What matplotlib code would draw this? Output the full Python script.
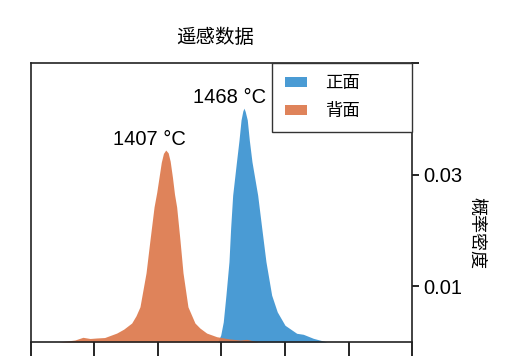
import numpy as np
import matplotlib
matplotlib.use('Agg')
import matplotlib.pyplot as plt

plt.rcParams['font.family'] = ['Liberation Sans', 'Noto Sans CJK SC']

# front surface (正面) density
front_T = [1447, 1449.4, 1451.4, 1453.5, 1455.9, 1457.2, 1458.8, 1461.8, 1463.8,
           1465.4, 1466.8, 1467.7, 1468.7, 1470.3, 1471.9, 1474.0, 1478.5, 1481.7,
           1485.0, 1489.5, 1493.9, 1500.0, 1509.2, 1514.4, 1522.3, 1533]
front_d = [0.0, 0.00125, 0.0036, 0.0084, 0.0144, 0.0204, 0.0263, 0.0323, 0.0362,
           0.0398, 0.0414, 0.0419, 0.0413, 0.0398, 0.0362, 0.0323, 0.0263, 0.0204,
           0.0144, 0.0084, 0.0054, 0.0030, 0.00156, 0.00138, 0.00066, 0.0]

# back surface (背面) density
back_T = [1322, 1334.6, 1340.9, 1346.5, 1351.7, 1358.0, 1367.5, 1373.0, 1379.3,
          1382.7, 1385.8, 1390.6, 1393.7, 1396.9, 1399.0, 1400.8, 1402.6, 1404.3,
          1406.1, 1408.0, 1409.6, 1411.4, 1413.0, 1414.7, 1417.3, 1419.7, 1423.6,
          1429.1, 1433.0, 1438.3, 1446.2, 1456.7, 1464.6, 1469.8, 1474.0, 1479]
back_d = [0.0, 0.00036, 0.00084, 0.00063, 0.00072, 0.0008, 0.0016, 0.0023, 0.0034,
          0.0047, 0.0063, 0.0124, 0.0183, 0.0242, 0.0268, 0.0295, 0.0322, 0.0338,
          0.0344, 0.0339, 0.0324, 0.0295, 0.0265, 0.0242, 0.0183, 0.0124, 0.0063,
          0.0034, 0.0025, 0.0016, 0.00095, 0.00054, 0.00036, 0.00048, 0.00027, 0.0]

labels = ['正面', '背面']
peak_text = ['1468 °C', '1407 °C']
xticks = [1300, 1350, 1400, 1450, 1500, 1550, 1600]
yticks = [0.01, 0.03, 0.05]
ytick_labels = ['0.01', '0.03', '']

c_front = '#4A9BD4'
c_back = '#DC7648'

fig = plt.figure(figsize=(5.12, 3.6), dpi=100)
ax = fig.add_axes([0.0605, 0.05, 0.7442, 0.775])

ax.fill_between(front_T, front_d, color=c_front, lw=0, label=labels[0])
ax.fill_between(back_T, back_d, color=c_back, alpha=0.9, lw=0, label=labels[1])

ax.text(1393.3, 0.0353, peak_text[1], ha='center', va='baseline', fontsize=14.5)
ax.text(1456.7, 0.0428, peak_text[0], ha='center', va='baseline', fontsize=14.5)

ax.set_xlim(1300, 1600)
ax.set_ylim(0, 0.05)
ax.set_xticks(xticks)
ax.tick_params(axis='x', length=10, width=1.2, labelbottom=False)
ax.yaxis.tick_right()
ax.set_yticks(yticks)
ax.set_yticklabels(ytick_labels)
ax.tick_params(axis='y', length=5, width=1.2, labelsize=14.5, pad=3)
for s in ax.spines.values():
    s.set_linewidth(1.2)
    s.set_color('#222222')

ax.yaxis.set_label_position('right')
ax.set_ylabel('概率密度', rotation=-90, fontsize=13)
ax.yaxis.set_label_coords(1.19, 0.39)

leg = ax.legend(loc='upper left', bbox_to_anchor=(0.6325, 0, 0.3675, 1.0),
                mode='expand', borderaxespad=0, fancybox=False, framealpha=1,
                fontsize=12.5, handlelength=1.25, handleheight=0.5,
                handletextpad=1.05, labelspacing=0.7, borderpad=0.75)
leg.get_frame().set_edgecolor('#333333')
leg.get_frame().set_linewidth(1.0)

fig.text(0.42, 0.895, '遥感数据', ha='center', va='center', fontsize=14)

fig.savefig('out.png', dpi=100)
